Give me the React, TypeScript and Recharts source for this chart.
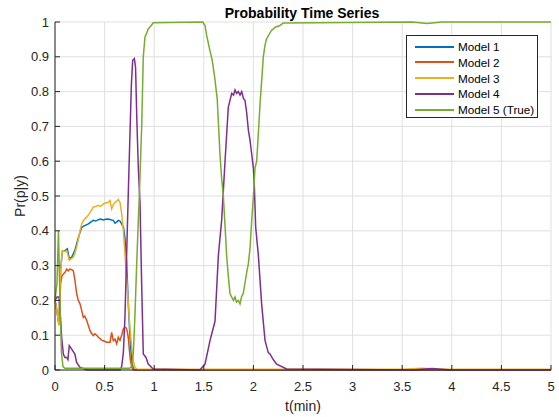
// Probability time series: five model posteriors over time (MATLAB-style look).
import React from 'react'
import { LineChart, Line, XAxis, YAxis, CartesianGrid } from 'recharts'

const FONT = '"Liberation Sans", Arial, Helvetica, sans-serif'
const AXIS = '#262626'
const GRID = '#dfdfdf'

const xTicks = [0, 0.5, 1, 1.5, 2, 2.5, 3, 3.5, 4, 4.5, 5]
const yTicks = [0, 0.1, 0.2, 0.3, 0.4, 0.5, 0.6, 0.7, 0.8, 0.9, 1]

// Model 1
const m1Time = [0, 0.02, 0.04, 0.057, 0.074, 0.1, 0.124, 0.144, 0.168, 0.2, 0.235, 0.269, 0.3, 0.336, 0.36, 0.386, 0.41, 0.437, 0.46, 0.487, 0.51, 0.538, 0.56, 0.588, 0.605, 0.62, 0.638, 0.655, 0.672, 0.69, 0.705, 0.722, 0.739, 0.756, 0.773, 0.79, 0.82, 5]
const m1Prob = [0.2, 0.17, 0.13, 0.29, 0.34, 0.343, 0.348, 0.32, 0.324, 0.343, 0.38, 0.41, 0.415, 0.42, 0.425, 0.43, 0.428, 0.432, 0.434, 0.431, 0.433, 0.434, 0.432, 0.43, 0.422, 0.425, 0.43, 0.428, 0.42, 0.41, 0.38, 0.31, 0.19, 0.094, 0.027, 0.003, 0, 0]

// Model 2
const m2Time = [0, 0.024, 0.04, 0.057, 0.07, 0.084, 0.1, 0.118, 0.134, 0.15, 0.17, 0.185, 0.2, 0.218, 0.235, 0.252, 0.27, 0.286, 0.3, 0.32, 0.336, 0.353, 0.37, 0.386, 0.403, 0.42, 0.437, 0.454, 0.47, 0.487, 0.504, 0.52, 0.538, 0.555, 0.571, 0.588, 0.605, 0.622, 0.638, 0.655, 0.672, 0.689, 0.706, 0.72, 0.73, 0.74, 0.75, 0.76, 0.773, 0.79, 5]
const m2Prob = [0.2, 0.16, 0.13, 0.25, 0.27, 0.276, 0.28, 0.29, 0.285, 0.29, 0.288, 0.285, 0.26, 0.22, 0.2, 0.19, 0.17, 0.151, 0.155, 0.142, 0.128, 0.113, 0.105, 0.099, 0.104, 0.1, 0.094, 0.09, 0.086, 0.084, 0.082, 0.08, 0.08, 0.08, 0.108, 0.084, 0.089, 0.075, 0.094, 0.085, 0.1, 0.118, 0.123, 0.12, 0.108, 0.09, 0.056, 0.03, 0.008, 0, 0]

// Model 3
const m3Time = [0, 0.02, 0.04, 0.057, 0.074, 0.1, 0.118, 0.144, 0.165, 0.185, 0.2, 0.218, 0.235, 0.252, 0.27, 0.286, 0.303, 0.32, 0.336, 0.353, 0.37, 0.386, 0.41, 0.437, 0.46, 0.487, 0.51, 0.538, 0.555, 0.571, 0.588, 0.605, 0.622, 0.638, 0.655, 0.672, 0.689, 0.705, 0.72, 0.739, 0.756, 0.773, 0.79, 0.806, 0.83, 3.5, 3.7, 3.9, 5]
const m3Prob = [0.2, 0.17, 0.128, 0.286, 0.343, 0.34, 0.343, 0.315, 0.32, 0.324, 0.335, 0.353, 0.375, 0.4, 0.42, 0.43, 0.435, 0.44, 0.445, 0.453, 0.46, 0.468, 0.47, 0.473, 0.47, 0.477, 0.48, 0.482, 0.487, 0.463, 0.475, 0.482, 0.485, 0.49, 0.482, 0.449, 0.4, 0.334, 0.27, 0.19, 0.12, 0.065, 0.025, 0.008, 0.002, 0.002, 0.005, 0.002, 0.002]

// Model 4
const m4Time = [0, 0.02, 0.04, 0.055, 0.067, 0.084, 0.1, 0.118, 0.13, 0.144, 0.168, 0.2, 0.218, 0.25, 0.32, 0.655, 0.672, 0.689, 0.705, 0.722, 0.74, 0.756, 0.77, 0.783, 0.8, 0.812, 0.825, 0.84, 0.857, 0.874, 0.89, 0.917, 0.94, 0.99, 1.46, 1.512, 1.563, 1.613, 1.647, 1.68, 1.714, 1.747, 1.781, 1.8, 1.815, 1.831, 1.848, 1.865, 1.882, 1.9, 1.915, 1.932, 1.949, 1.966, 1.983, 2.0, 2.01, 2.023, 2.05, 2.083, 2.117, 2.15, 2.167, 2.2, 2.234, 2.335, 3.6, 3.8, 4.0, 5]
const m4Prob = [0.2, 0.21, 0.21, 0.15, 0.094, 0.046, 0.036, 0.036, 0.03, 0.07, 0.06, 0.046, 0.022, 0.008, 0, 0, 0.01, 0.05, 0.15, 0.33, 0.52, 0.68, 0.82, 0.89, 0.895, 0.87, 0.72, 0.58, 0.48, 0.24, 0.046, 0.036, 0.017, 0.003, 0, 0.017, 0.085, 0.14, 0.33, 0.43, 0.6, 0.755, 0.795, 0.79, 0.805, 0.795, 0.8, 0.79, 0.8, 0.78, 0.775, 0.74, 0.69, 0.66, 0.62, 0.58, 0.525, 0.41, 0.33, 0.19, 0.085, 0.05, 0.046, 0.03, 0.017, 0.003, 0, 0.004, 0, 0]

// Model 5 (True)
const m5Time = [0, 0.02, 0.035, 0.05, 0.065, 0.08, 0.1, 0.75, 0.773, 0.79, 0.805, 0.823, 0.84, 0.85, 0.862, 0.874, 0.89, 0.907, 0.92, 0.94, 0.97, 0.99, 1.49, 1.512, 1.53, 1.56, 1.585, 1.61, 1.635, 1.663, 1.68, 1.697, 1.713, 1.73, 1.747, 1.764, 1.78, 1.8, 1.815, 1.83, 1.848, 1.865, 1.88, 1.898, 1.915, 1.932, 1.949, 1.966, 1.983, 2.0, 2.016, 2.033, 2.05, 2.067, 2.083, 2.1, 2.115, 2.13, 2.15, 2.18, 2.22, 2.268, 2.3, 3.6, 3.75, 3.9, 5]
const m5Prob = [0.2, 0.25, 0.4, 0.2, 0.05, 0.01, 0.005, 0.005, 0.01, 0.05, 0.15, 0.3, 0.43, 0.5, 0.6, 0.7, 0.9, 0.957, 0.965, 0.98, 0.99, 0.998, 1, 0.99, 0.96, 0.92, 0.89, 0.84, 0.78, 0.62, 0.55, 0.5, 0.42, 0.33, 0.27, 0.22, 0.21, 0.2, 0.21, 0.195, 0.2, 0.19, 0.21, 0.22, 0.25, 0.28, 0.305, 0.35, 0.43, 0.5, 0.58, 0.6, 0.68, 0.765, 0.83, 0.9, 0.93, 0.95, 0.96, 0.975, 0.985, 0.99, 0.997, 1, 0.996, 1, 1]

const toPoints = (time: number[], prob: number[]) => time.map((t, i) => ({ t, p: prob[i] }))

const SERIES = [
  { name: 'Model 1', color: '#0072BD', data: toPoints(m1Time, m1Prob) },
  { name: 'Model 2', color: '#D95319', data: toPoints(m2Time, m2Prob) },
  { name: 'Model 3', color: '#EDB120', data: toPoints(m3Time, m3Prob) },
  { name: 'Model 4', color: '#7E2F8E', data: toPoints(m4Time, m4Prob) },
  { name: 'Model 5 (True)', color: '#77AC30', data: toPoints(m5Time, m5Prob) },
]

const tickStyle = { fontSize: 13, fill: AXIS, fontFamily: FONT }
const blank = () => ''

function LegendBox() {
  return (
    <div
      style={{
        position: 'absolute', left: 406, top: 35, width: 132, height: 83,
        boxSizing: 'border-box', border: `1px solid ${AXIS}`, background: '#fff',
        fontFamily: FONT, fontSize: 11.7, color: '#000',
      }}
    >
      {SERIES.map((s, i) => (
        <div
          key={s.name}
          style={{
            position: 'absolute', left: 0, top: 2.7 + i * 15.7, height: 16,
            display: 'flex', alignItems: 'center', whiteSpace: 'nowrap',
          }}
        >
          <span style={{ marginLeft: 8, width: 39, height: 2, background: s.color, display: 'inline-block' }} />
          <span style={{ marginLeft: 4 }}>{s.name}</span>
        </div>
      ))}
    </div>
  )
}

export default function App() {
  return (
    <div style={{ position: 'absolute', left: 0, top: 0, width: 559, height: 417, background: '#fff' }}>
      <LineChart width={559} height={417} margin={{ top: 22, right: 8, bottom: 0, left: 0 }}>
        <CartesianGrid stroke={GRID} strokeWidth={1} />
        <XAxis
          dataKey="t" type="number" domain={[0, 5]} ticks={xTicks} interval={0}
          height={47} tickSize={-5} tickMargin={17} stroke={AXIS} tick={tickStyle}
        />
        <XAxis
          xAxisId="top" orientation="top" type="number" domain={[0, 5]} ticks={xTicks} interval={0}
          height={0} tickSize={-5} stroke={AXIS} tickFormatter={blank}
        />
        <YAxis
          type="number" domain={[0, 1]} ticks={yTicks} interval={0}
          width={55} tickSize={-5} tickMargin={11} stroke={AXIS} tick={tickStyle}
        />
        <YAxis
          yAxisId="right" orientation="right" type="number" domain={[0, 1]} ticks={yTicks} interval={0}
          width={0} tickSize={-5} stroke={AXIS} tickFormatter={blank}
        />
        {SERIES.map((s) => (
          <Line
            key={s.name}
            data={s.data}
            dataKey="p"
            name={s.name}
            type="linear"
            stroke={s.color}
            strokeWidth={1.5}
            dot={false}
            activeDot={false}
            isAnimationActive={false}
          />
        ))}
      </LineChart>

      <svg width={559} height={417} style={{ position: 'absolute', left: 0, top: 0, pointerEvents: 'none' }}>
        <text x={302} y={18} textAnchor="middle" fontFamily={FONT} fontSize={14} fontWeight="bold" fill="#000">
          Probability Time Series
        </text>
        <text x={25} y={196} textAnchor="middle" fontFamily={FONT} fontSize={14} fill={AXIS} transform="rotate(-90, 25, 196)">
          Pr(p|y)
        </text>
        <text x={303} y={410.5} textAnchor="middle" fontFamily={FONT} fontSize={14} fill={AXIS}>
          t(min)
        </text>
      </svg>

      <LegendBox />
    </div>
  )
}
